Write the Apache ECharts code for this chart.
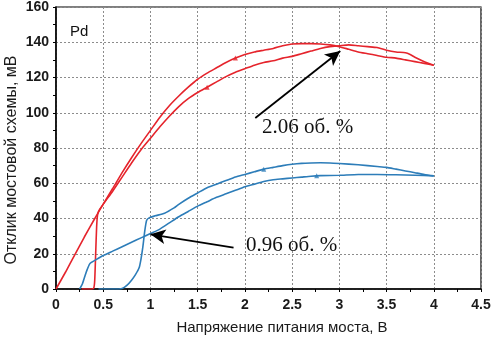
<!DOCTYPE html>
<html>
<head>
<meta charset="utf-8">
<script src="https://cdn.jsdelivr.net/npm/echarts@6/dist/echarts.min.js"></script>
<style>
  html, body { margin: 0; padding: 0; background: #fff; }
  #chart { width: 496px; height: 343px; }
</style>
</head>
<body>
<div id="chart"></div>
<script>
// напряжение (В) / отклик (мВ)
var redUp = [[0,0],[0.1,9.5],[0.2,19.5],[0.3,29.5],[0.4,39],[0.47,45.5],[0.6,57],[0.7,66],[0.8,74.5],[0.9,82.5],[1.0,90],[1.1,97.5],[1.2,104],[1.3,109.5],[1.4,114.5],[1.5,119],[1.6,122.5],[1.7,125.5],[1.8,128.5],[1.9,131],[2.0,133],[2.1,134.5],[2.2,135.5],[2.3,136.5],[2.4,138],[2.5,139],[2.6,139.2],[2.7,139.2],[2.8,139],[2.9,138.5],[3.0,137.5],[3.1,136],[3.2,134.5],[3.3,133.5],[3.4,132.5],[3.5,131.5],[3.6,131],[3.7,130],[3.8,129],[3.9,128],[4.0,127]];
var redDown = [[0.27,0],[0.38,0],[0.40,0.5],[0.41,5],[0.42,20],[0.43,35],[0.44,42],[0.46,45],[0.6,55.5],[0.7,63.5],[0.8,71.5],[0.9,79],[1.0,85.5],[1.1,92],[1.2,98],[1.3,103.5],[1.4,108],[1.5,111.5],[1.6,114.5],[1.7,117.5],[1.8,120.5],[1.9,123],[2.0,125],[2.1,127],[2.2,128.5],[2.3,129.5],[2.4,131],[2.5,132],[2.6,133.5],[2.7,135],[2.8,136.5],[2.9,137.5],[3.0,138],[3.1,138.5],[3.2,138],[3.3,137.5],[3.4,137],[3.5,135.5],[3.6,134.5],[3.7,134],[3.75,133],[3.8,131.5],[3.9,129],[4.0,127]];
var blueLow = [[0.25,0],[0.28,3],[0.31,8],[0.33,11],[0.36,14.5],[0.42,16.5],[0.5,19],[0.6,21.5],[0.7,24],[0.8,26.5],[0.9,29],[1.0,31.5],[1.1,34],[1.2,37.5],[1.3,41],[1.4,44],[1.5,47],[1.6,49.5],[1.7,52],[1.8,54],[1.9,56],[2.0,58],[2.1,59.5],[2.2,61],[2.3,62],[2.4,62.5],[2.5,63],[2.6,63.5],[2.7,64],[2.8,64.3],[3.0,64.5],[3.2,65],[3.4,65],[3.6,64.8],[3.8,64.5],[4.0,64.2]];
var blueHigh = [[0.45,0],[0.6,0],[0.7,0.3],[0.75,2],[0.8,5],[0.84,8],[0.88,12],[0.9,17],[0.92,24],[0.94,33],[0.96,39],[0.99,40.5],[1.05,41.5],[1.15,43],[1.25,46],[1.3,48],[1.4,51.5],[1.5,54.5],[1.6,57.5],[1.7,59.5],[1.8,61.5],[1.9,63.5],[2.0,65],[2.1,66.5],[2.2,68],[2.3,69],[2.4,70],[2.5,70.8],[2.6,71.3],[2.7,71.5],[2.8,71.6],[2.9,71.5],[3.0,71.2],[3.2,70.5],[3.4,69.5],[3.5,69],[3.6,68],[3.7,67],[3.8,66],[3.9,65],[4.0,64.2]];
// стрелки направления на кривых
var redMarks = [[1.9,131],[1.6,114.5]];
var blueMarks = [[2.2,68],[2.76,64.2]];
// стрелки к подписям
var arrowRed = [[2.11,97],[3.01,135]];
var arrowBlue = [[1.88,23.5],[1.0,31]];
var xTicks = { min: 0, max: 4.5, step: 0.5 };
var yTicks = { min: 0, max: 160, step: 20 };

var RED = '#e5242c';
var BLUE = '#2d7db9';

var chart = echarts.init(document.getElementById('chart'));

var labelStyle = {
  color: '#1a1a1a',
  fontFamily: 'Liberation Sans, Arial, sans-serif',
  fontWeight: 'bold',
  fontSize: 14
};
var gridLine = {
  show: true,
  lineStyle: { color: '#8c8c8c', type: [2, 2], width: 1 }
};

function curve(data, color) {
  return {
    type: 'line',
    data: data,
    showSymbol: false,
    symbol: 'none',
    smooth: 0.2,
    lineStyle: { color: color, width: 1.6 },
    silent: true,
    animation: false
  };
}

function arrowLine(pts) {
  return [{ coord: pts[0] }, { coord: pts[1] }];
}

var option = {
  animation: false,
  grid: {
    left: 56, right: 15, top: 5, bottom: 54,
    show: true, borderColor: '#000', borderWidth: 1.2
  },
  xAxis: {
    type: 'value',
    min: xTicks.min, max: xTicks.max, interval: xTicks.step,
    axisLine: { show: true, onZero: false, lineStyle: { color: '#000', width: 1.5 } },
    axisTick: { show: true, length: 3, lineStyle: { color: '#000' } },
    minorTick: { show: true, splitNumber: 2, length: 3, lineStyle: { color: '#000' } },
    splitLine: gridLine,
    axisLabel: Object.assign({ margin: 9 }, labelStyle)
  },
  yAxis: {
    type: 'value',
    min: yTicks.min, max: yTicks.max, interval: yTicks.step,
    axisLine: { show: true, onZero: false, lineStyle: { color: '#000', width: 1.5 } },
    axisTick: { show: true, length: 3, lineStyle: { color: '#000' } },
    minorTick: { show: true, splitNumber: 2, length: 3, lineStyle: { color: '#000' } },
    splitLine: gridLine,
    axisLabel: Object.assign({ margin: 7 }, labelStyle)
  },
  graphic: [
    {
      type: 'text', left: 70, top: 24,
      style: { text: 'Pd', fill: '#111', font: '15px "Liberation Sans", Arial, sans-serif' }
    },
    {
      type: 'text', left: 262, top: 117,
      style: { text: '2.06 об. %', fill: '#111', font: '21px "Liberation Serif", "Times New Roman", serif' }
    },
    {
      type: 'text', left: 246, top: 235,
      style: { text: '0.96 об. %', fill: '#111', font: '21px "Liberation Serif", "Times New Roman", serif' }
    },
    {
      type: 'text', x: 12, y: 160, rotation: Math.PI / 2,
      style: {
        text: 'Отклик мостовой схемы, мВ', fill: '#1a1a1a',
        font: '16px "Liberation Sans", Arial, sans-serif',
        align: 'center', verticalAlign: 'middle'
      }
    },
    {
      type: 'text', x: 282, y: 328,
      style: {
        text: 'Напряжение питания моста, В', fill: '#1a1a1a',
        font: '15px "Liberation Sans", Arial, sans-serif',
        align: 'center', verticalAlign: 'middle'
      }
    }
  ],
  series: [
    curve(redUp, RED),
    curve(redDown, RED),
    curve(blueLow, BLUE),
    curve(blueHigh, BLUE),
    {
      type: 'scatter',
      data: redMarks,
      symbol: 'triangle', symbolSize: 5,
      itemStyle: { color: RED },
      silent: true
    },
    {
      type: 'scatter',
      data: blueMarks,
      symbol: 'triangle', symbolSize: 5,
      itemStyle: { color: BLUE },
      silent: true,
      markLine: {
        silent: true,
        symbol: ['none', 'arrow'],
        symbolSize: [11, 15],
        label: { show: false },
        lineStyle: { color: '#000', width: 1.8, type: 'solid' },
        data: [arrowLine(arrowRed), arrowLine(arrowBlue)]
      }
    }
  ]
};
chart.setOption(option);
</script>
</body>
</html>
